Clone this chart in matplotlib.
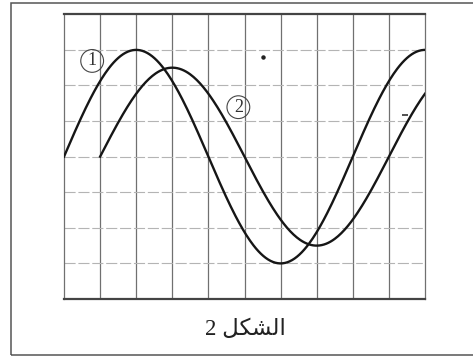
import numpy as np
import matplotlib
matplotlib.use('Agg')
from matplotlib import pyplot as plt
from matplotlib.patches import Rectangle

# 示波器读数（单位：格）
x_divs = 10
y_divs = 8
amplitudes = [3.0, 2.5]      # 曲线 1, 2 的振幅
periods = [8.0, 8.0]         # 周期
starts = [0.0, 1.0]          # 起始位置（过零点）
labels = ['1', '2']
label_x = [0.78, 4.83]
label_y = [2.69, 1.39]
# 扫描图上的小污点
spot_x = [5.51]
spot_y = [2.80]
dash_x = [9.45]
dash_y = [1.17]
caption = '2 ' + '\uFEDE\uFEDC\uFEB8\uFEDF\uFE8D'  # الشكل 2（已手动连写）

fig = plt.figure(figsize=(4.73, 3.59), dpi=100)
fig.patch.set_facecolor('white')

# 外框（右边超出图片）
fig.patches.append(Rectangle((10.5 / 473, 4 / 359), 1.1, 352 / 359, transform=fig.transFigure,
                             fill=False, edgecolor='#555555', linewidth=1.1))

ax = fig.add_axes([64 / 473, 60 / 359, 361 / 473, 284.7 / 359])
ax.set_xlim(0, x_divs)
ax.set_ylim(-y_divs / 2, y_divs / 2)

# 网格
for gx in range(1, x_divs):
    ax.axvline(gx, color='#707070', linewidth=0.9, zorder=1)
for gy in range(-y_divs // 2 + 1, y_divs // 2):
    ax.axhline(gy, color='#b4b4b4', linewidth=0.8, linestyle=(0, (10, 2.5)), zorder=1)

for side in ['left', 'right']:
    ax.spines[side].set_color('#707070')
    ax.spines[side].set_linewidth(0.9)
for side in ['top', 'bottom']:
    ax.spines[side].set_color('#444444')
    ax.spines[side].set_linewidth(1.6)
ax.set_xticks([])
ax.set_yticks([])

# 两条正弦曲线
for a, p, s in zip(amplitudes, periods, starts):
    t = np.linspace(s, x_divs, 300)
    ax.plot(t, a * np.sin(2 * np.pi * (t - s) / p), color='#161616', linewidth=1.7, zorder=3)

for lx, ly, lb in zip(label_x, label_y, labels):
    ax.text(lx, ly, lb, fontsize=13, family='Liberation Serif', color='#333333',
            ha='center', va='center', zorder=4,
            bbox=dict(boxstyle='circle,pad=0.16', facecolor='none', edgecolor='#444444', linewidth=0.8))

ax.plot(spot_x, spot_y, 'o', color='#222222', markersize=2.2, zorder=4)
ax.plot(dash_x, dash_y, '_', color='#333333', markersize=4, markeredgewidth=1.2, zorder=4)

fig.text(245 / 473, 1 - 329 / 359, caption, fontsize=16.5, family=['Liberation Serif', 'DejaVu Sans'],
         ha='center', va='center', color='#222222')

fig.savefig('out.png', dpi=100)
